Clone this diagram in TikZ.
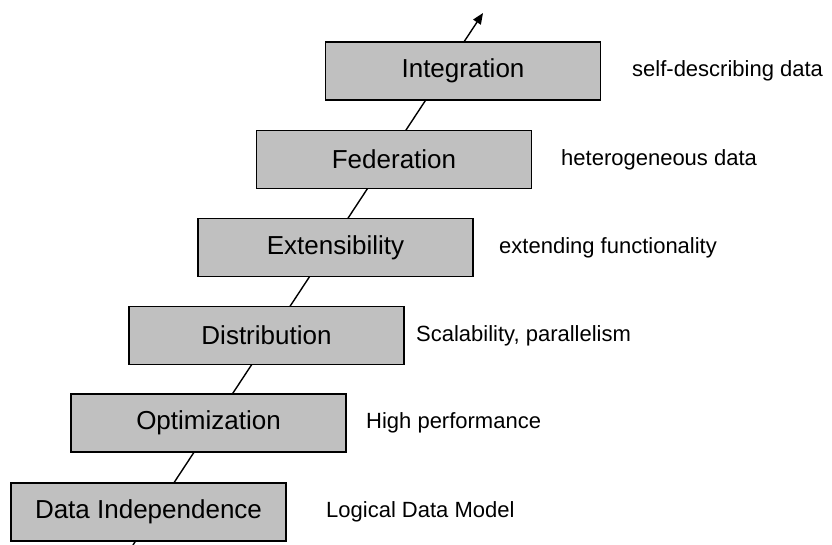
\documentclass[tikz,border=0pt]{standalone}
\usepackage{fontspec}
\setmainfont{Liberation Sans}
\usetikzlibrary{arrows.meta}
\definecolor{boxgray}{RGB}{192,192,192}

\begin{document}
\begin{tikzpicture}[x=1pt, y=1pt,
    stage/.style = {draw, line width=1.7pt, fill=boxgray, minimum width=275pt, minimum height=58pt, inner sep=0pt, font=\fontsize{26}{30}\selectfont},
    note/.style = {anchor=west, inner sep=0pt, font=\fontsize{22}{26}\selectfont}]
      \useasboundingbox (0,0) rectangle (832,545);
      \coordinate (start) at (133,0);
      \coordinate (tip) at (483,532);
      \draw[line width=1.4pt, -{Triangle[length=11pt, width=9pt]}] (start) -- (tip); % runs behind the steps
      % steps
      \node[stage] (indep) at (148.5,33) {Data Independence};
      \node[stage] (optim) at (208.5,122) {Optimization};
      \node[stage] (distr) at (266.5,209.5) {Distribution};
      \node[stage] (exten) at (335.5,297.5) {Extensibility};
      \node[stage] (feder) at (394,385.5) {Federation};
      \node[stage] (integ) at (463,474) {Integration};
      % notes
      \node[note] (indepnote) at (326,33) {Logical Data Model};
      \node[note] (optimnote) at (366,122) {High performance};
      \node[note] (distrnote) at (416,209.5) {Scalability, parallelism};
      \node[note] (extennote) at (499,297.5) {extending functionality};
      \node[note] (federnote) at (561,385.5) {heterogeneous data};
      \node[note] (integnote) at (632,474) {self-describing data};
    \end{tikzpicture}
\end{document}
